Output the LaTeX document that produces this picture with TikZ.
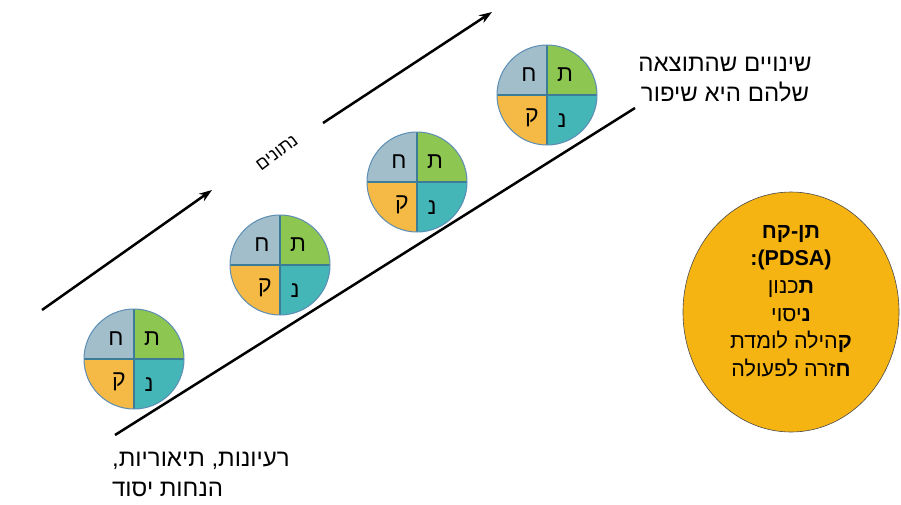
\documentclass[tikz,border=0pt]{standalone}
\usepackage{fontspec}
\setmainfont{Liberation Sans}
\newfontfamily\heb[Script=Hebrew]{Liberation Sans}
\TeXXeTstate=1
\usetikzlibrary{arrows.meta,shapes.geometric}
\definecolor{qtl}{HTML}{A2BECB}
\definecolor{qtr}{HTML}{8DC651}
\definecolor{qbl}{HTML}{F5BA45}
\definecolor{qbr}{HTML}{45B6B8}
\definecolor{qdiv}{HTML}{3C7C96}
\definecolor{qrim}{HTML}{5B8DB5}
\definecolor{pdsafill}{HTML}{F6B412}
\tikzset{
  cyc/.style={circle,minimum size=100pt,inner sep=0pt,outer sep=0pt},
  letter/.style={font=\heb\fontsize{23}{23}\selectfont,inner sep=0pt,anchor=base},
  flowarrow/.style={line width=2.5pt,-{Stealth[length=13pt,width=9pt]}},
  baseline/.style={line width=2.5pt},
  label/.style={font=\heb\fontsize{24}{30}\selectfont,inner sep=0pt},
}
\newcommand\cyclecirc[2]{%
  \node[cyc] (#1) at (#2) {};
  \fill[qtl] (#1.center) -- ++(90:50pt) arc[start angle=90,end angle=180,radius=50pt] -- cycle;
  \fill[qtr] (#1.center) -- ++(0:50pt) arc[start angle=0,end angle=90,radius=50pt] -- cycle;
  \fill[qbl] (#1.center) -- ++(180:50pt) arc[start angle=180,end angle=270,radius=50pt] -- cycle;
  \fill[qbr] (#1.center) -- ++(270:50pt) arc[start angle=270,end angle=360,radius=50pt] -- cycle;
  \draw[qdiv,line width=1.6pt] (#1.north) -- (#1.south) (#1.west) -- (#1.east);
  \draw[qrim,line width=1pt] (#1.center) circle[radius=50pt];
  \node[letter] at ([xshift=-18pt,yshift=14pt]#1.center) {ח};
  \node[letter] at ([xshift=18pt,yshift=14pt]#1.center) {ת};
  \node[letter] at ([xshift=-15pt,yshift=-27pt]#1.center) {ק};
  \node[letter] at ([xshift=15pt,yshift=-32pt]#1.center) {נ};
}
\begin{document}
\begin{tikzpicture}[x=1pt,y=1pt]
\useasboundingbox (0,0) rectangle (901,-504);
\fill[white] (0,0) rectangle (901,-504);

\cyclecirc{c1}{134,-359}
\cyclecirc{c2}{280,-265}
\cyclecirc{c3}{417,-182}
\cyclecirc{c4}{547,-95}

\coordinate (a1s) at (42,-310);
\coordinate (a1e) at (212,-190);
\coordinate (a2s) at (323,-123);
\coordinate (a2e) at (492,-12);
\coordinate (ls) at (115,-435);
\coordinate (le) at (635,-108);
\draw[flowarrow] (a1s) -- (a1e);
\draw[flowarrow] (a2s) -- (a2e);
\draw[baseline] (ls) -- (le);

\node[font=\heb\fontsize{18}{18}\selectfont,rotate=37,inner sep=1pt] (data) at (277,-153) {\beginR נתונים\endR};

\node[label,align=center] (result) at (725,-80) {\beginR שינויים שהתוצאה\endR\\\beginR שלהם היא שיפור\endR};

\node[label,align=left,anchor=north west] (ideas) at (112,-452) {\beginR רעיונות, תיאוריות,\endR\\\beginR הנחות יסוד\endR};

\node[ellipse,minimum width=216pt,minimum height=240pt,fill=pdsafill,draw=black!70,line width=0.6pt] (pdsa) at (791,-312) {};
\node[font=\heb\fontsize{21.5}{27.6}\selectfont,align=center,inner sep=0pt] (pdsatext) at (791,-301) {%
\beginR\textbf{תן-קח}\endR\\
\beginR\textbf{\beginL(PDSA)\endL:}\endR\\
\beginR\textbf{ת}כנון\endR\\
\beginR\textbf{נ}יסוי\endR\\
\beginR\textbf{ק}הילה לומדת\endR\\
\beginR\textbf{ח}זרה לפעולה\endR};
\end{tikzpicture}
\end{document}
